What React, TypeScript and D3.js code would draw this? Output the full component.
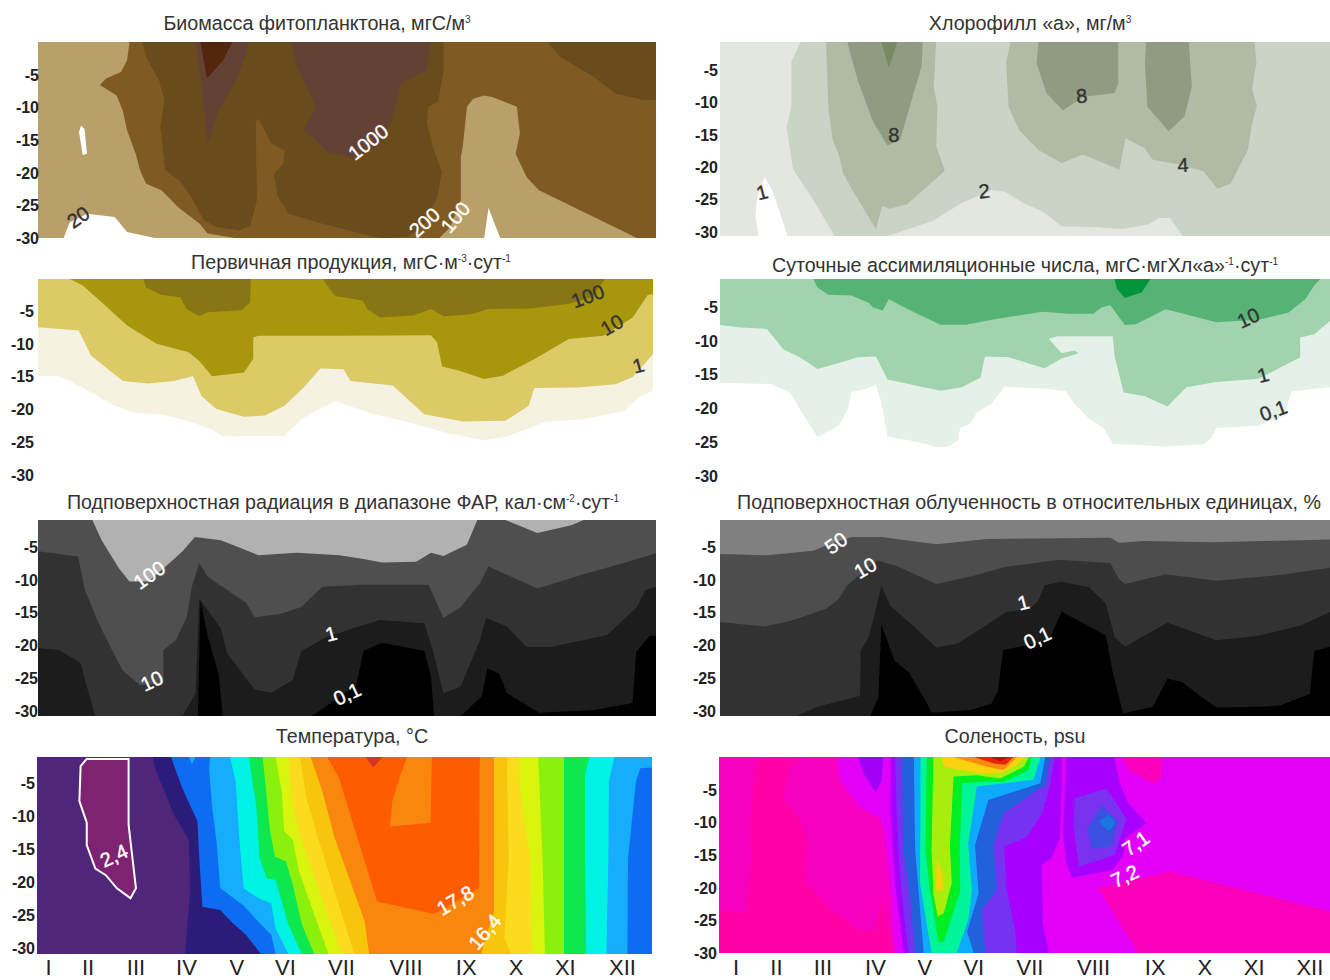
import React from "react";
import * as d3 from "d3";

type Pt = [number, number];
// x = position along the year axis (% of axis length), y = depth (m)
const depthTicks = [-5, -10, -15, -20, -25, -30];
const monthNames = ["I","II","III","IV","V","VI","VII","VIII","IX","X","XI","XII"];
const monthPosT = [1.9, 8.3, 16.1, 24.3, 32.5, 40.4, 49.5, 60, 69.8, 77.9, 85.9, 95.2];
const monthPosS = [2.8, 9.4, 17, 25.6, 33.7, 41.7, 50.9, 61.3, 71.4, 79.5, 87.6, 96.7];
const whole: Pt[] = [[0,0],[100,0],[100,30],[0,30]];

// Biomass
const bioHoleA: Pt[] = [[3.8,30],[4.8,27.6],[7.6,26.3],[12.1,26.8],[14.1,29.1],[18.6,30]];
const bioHoleB: Pt[] = [[6.6,12.8],[7.2,13.3],[7.6,17.1],[6.9,17.3],[6.3,13.8]];
const bioHoleC: Pt[] = [[72.1,30],[72.8,25.4],[74.7,30]];
const bio100: Pt[] = [[14.5,0],[14.1,2.8],[13.1,4.6],[10.7,5.6],[9.7,6.6],[12.4,8.2],[13.4,10.5],[14.1,13.5],[15.5,17.1],[16.2,19.6],[17.2,21.7],[19.7,22.7],[22.4,25.3],[25.9,27.8],[27.2,29.3],[31.7,30],[64.8,30],[66.6,28.3],[68.3,24.2],[68.3,17.6],[68.6,16.1],[69.3,9.9],[70.3,8.7],[72.1,8.2],[73.4,8.4],[77.4,9.9],[77.9,14],[77.2,17.1],[79,20.7],[81,22.7],[96.9,30],[100,30],[100,0]];
const bio200: Pt[] = [[16.6,0],[17.2,2.3],[19.3,5.9],[20.2,8.9],[19.5,13],[20.3,19.6],[22.8,21.4],[24.5,23.7],[26.6,27.3],[28.6,28.3],[32.4,28.8],[34.1,28.1],[35.2,24.2],[35,12.2],[35.4,11.7],[37.6,15.6],[39.7,16.6],[39.5,18.6],[37.9,20.2],[38.6,23.7],[40.3,26.3],[45.9,27.8],[54.1,29.8],[55.9,30],[59.7,29.8],[62.4,27.8],[64.5,23.7],[65.2,19.9],[63.8,16.1],[62.8,12.5],[63,9.9],[64.6,9.2],[65.5,4.3],[65.5,0]];
const bio200b: Pt[] = [[82.4,0],[84.5,2.3],[90,5.4],[93.4,7.9],[97.6,8.8],[100,8.9],[100,0]];
const bio1000a: Pt[] = [[25.2,0],[25.9,4.3],[27.2,15.6],[29,10.5],[31.7,6.1],[33.4,2],[33.8,0]];
const bio1000b: Pt[] = [[40.7,0],[41.7,3.8],[44.8,9.9],[42.8,13.3],[46.6,16.8],[50.7,17.7],[54.8,16.1],[56.9,12.5],[58.6,6.4],[62.8,4.3],[63.4,0]];
const bioTop: Pt[] = [[26,0],[27.1,5.6],[29.7,2.8],[31.2,0]];

// Chlorophyll
const chlHole: Pt[] = [[7.1,20.9],[8.4,23],[10.9,30],[6.1,30],[5.6,26.7],[5.9,24]];
const chl2: Pt[] = [[13,0],[11.5,3.1],[11.5,10],[10.7,13.3],[11.8,19.7],[15.1,24.4],[18.6,30],[27.3,30],[34.6,27.7],[39.5,24.9],[44.4,22.9],[46.5,23.1],[49.6,24.9],[52.8,26.2],[55.9,28.5],[61.1,28.6],[66,28.9],[70.2,28.2],[71.9,27.2],[73.7,27.2],[75.8,30],[100,30],[100,0]];
const chl4a: Pt[] = [[17.2,0],[17.6,10.5],[18.3,15.1],[19.4,17.7],[20,20.3],[22.1,23.8],[25.4,28.9],[26.4,25.4],[27.7,25.8],[30.5,25.1],[32.9,23.1],[36.7,19.9],[35.3,16.1],[35.5,10],[34.9,6.9],[35.3,0]];
const chl4b: Pt[] = [[47.5,0],[46.8,3.3],[47.2,10],[48.9,13.6],[52.1,16.7],[55.9,18.7],[59.4,17.4],[65.4,19.7],[66.4,14.9],[69.5,16.4],[70.9,18.2],[75,18.9],[79.2,20],[81.5,22.7],[83.7,21.9],[86.5,16.7],[87.2,12.6],[88,9.9],[87.2,7.2],[87.9,3.3],[87.6,0]];
const chl8a: Pt[] = [[20.7,0],[22.4,5.9],[24.9,12.3],[27.3,16],[29.4,15.1],[31.1,9.5],[32.9,3.8],[33.1,0]];
const chl8b: Pt[] = [[52.1,0],[51.8,3.3],[53.4,7.9],[56.1,10.6],[59.4,8.5],[64.6,7.9],[65.2,6.4],[65.2,0]];
const chl8c: Pt[] = [[69.8,0],[69.6,3.3],[70,10],[73.5,13.8],[76.1,11.5],[77.3,6.9],[76.8,0]];
const chlTop: Pt[] = [[26.3,0],[27.5,4],[28.9,0]];

// Primary production
const pp1: Pt[] = [[0,14.8],[3.5,14.9],[7.6,16.8],[12.4,19.4],[15.9,20.5],[20,20.7],[24.2,21.7],[28.3,23],[30,24.1],[40.1,24],[42.8,21.5],[45.2,20.2],[48.3,18.7],[54.6,20.7],[60.1,21.9],[67,23.7],[72.5,24.7],[76,24.2],[82.5,21.9],[89.1,21.4],[95.3,20.2],[97.7,18.1],[100,17.1],[100,0],[0,0]];
const pp10: Pt[] = [[0,7.4],[6.6,7.9],[7.6,9.7],[8.6,11.7],[13.8,15.6],[18,16],[22.1,15.6],[25.2,14.9],[26.6,17.9],[29,19.9],[33.5,21.1],[36.9,20.9],[40.1,19.4],[43.2,16.6],[45.9,13.7],[49.7,13.8],[50.8,15.6],[57.7,16.3],[62.8,20.7],[69.1,21.8],[76,21.7],[79.8,19.4],[80.7,16.7],[87.7,16.6],[93.9,16.1],[96.7,15],[100,11.5],[100,0],[0,0]];
const pp100: Pt[] = [[5.2,0],[7.3,1],[10.4,3.6],[14.5,7.1],[19.3,9.9],[24.5,11.2],[26.2,12.5],[28.3,14.9],[33.5,14.3],[35,12.2],[35,8.9],[35.9,8.7],[49,8.7],[63.9,8.6],[64.9,9.7],[65.7,13.4],[68.4,14],[72.5,15.3],[75.6,14.8],[80.8,12.2],[86.3,9.2],[91.9,8.7],[96.7,5.9],[99.1,2.5],[100,2.3],[100,0]];
const ppTopA: Pt[] = [[17.1,0],[17.6,1.3],[20,2.4],[23.1,2.8],[24.2,4.6],[26.2,5.7],[27.6,5.1],[33.1,4.8],[34.5,3.6],[34.6,0]];
const ppTopB: Pt[] = [[46.3,0],[48.3,2.6],[52.8,3.3],[53.5,4.6],[55.6,5.9],[61.1,5.6],[63.9,4.6],[66,5.7],[70.4,5.4],[73.2,4.6],[80.1,4.5],[86.3,3.8],[90.1,2.8],[92.2,0]];

// Assimilation numbers
const an01: Pt[] = [[0,15.8],[8.2,16],[11.3,17.3],[13,20],[15.8,24.1],[19.3,22.3],[20.8,19.8],[21.4,17.2],[23.5,16.8],[25.4,16.1],[26.3,19],[27.3,24],[33.2,25],[35.3,25.6],[37.4,25.5],[38.8,24.6],[39.3,22.6],[40.9,22.1],[42,20.3],[44.4,19],[46.5,16.4],[53.4,16.7],[56.6,17.1],[58,19],[60.4,21.3],[62.9,22.8],[64.3,25.1],[73,25.5],[79.2,25.2],[80.6,24.1],[81.3,22.7],[88.3,22.3],[92.5,20.8],[93.7,17.1],[100,16.5],[100,0],[0,0]];
const an1: Pt[] = [[0,7],[3.3,7.4],[7.5,7.6],[10.2,10.7],[13,12],[15.8,13.7],[19.3,12.8],[22.4,11.9],[25.4,11.8],[27.3,15.3],[36,17],[39.5,16.5],[42.6,15],[43.3,11.8],[47.2,11.9],[50,12.7],[53.1,13.6],[55.9,12.1],[58.7,11.3],[58,10.9],[55.9,11.3],[53.8,9.1],[55.2,8.7],[64.3,8.7],[64.6,11.7],[66.1,17.3],[69.5,17.8],[73.3,19.4],[76.4,16.5],[81.3,15.7],[88.3,15.2],[95.1,11.9],[95.1,8.9],[97.4,8.4],[100,6.4],[100,0],[0,0]];
const an10: Pt[] = [[15.1,0],[15.8,1.3],[17.6,2.4],[21.4,2.5],[24.2,3.6],[24.9,4.3],[26.5,4.8],[27.5,3.1],[31.1,4.8],[36,6.95],[40.2,6.95],[45.1,6.1],[52.8,5],[56.9,5.3],[61.1,5.3],[62.5,4.3],[63.9,4],[66.3,7],[68.1,6.9],[73,4.6],[77.2,5.6],[81.3,6.6],[88.3,6.2],[93.2,5.1],[96,3],[97.4,1],[98.4,0]];
const anTop: Pt[] = [[64.6,0],[65,1.5],[66.3,2.9],[69.1,2],[70.5,0]];

// Radiation
const rad100a: Pt[] = [[8.8,0],[10.3,3.1],[13.1,7.4],[14.8,9.4],[17.9,9.4],[21.3,6.6],[23.4,4.8],[25.4,2.6],[29.6,3.1],[35.7,5.4],[41.9,5],[48.8,5.4],[52.9,6],[55.7,6.5],[61.2,6.4],[63.6,5],[65.6,5.5],[69.4,3.8],[71.1,0]];
const rad100b: Pt[] = [[75.6,0],[80.8,2],[86.3,0.8],[88.3,0]];
const rad10: Pt[] = [[0,4.8],[6.5,5.6],[7.6,10.7],[9.6,15.3],[11.7,19.4],[13.7,23],[16.5,25.3],[20.3,25],[20.3,19.9],[22.3,18.4],[24.1,14.8],[24.9,10.2],[26.1,6.6],[27.5,8.7],[33.7,12.7],[35.1,14.9],[39.2,14.4],[42.6,13.3],[46,10.2],[52.2,9.9],[63.2,9.9],[65.6,15],[68.4,13.3],[71.5,9.7],[72.9,7.1],[80.8,10.5],[88.7,8.2],[95.5,6.4],[100,5.1],[100,30],[0,30]];
const rad1a: Pt[] = [[0,19.6],[3.4,19.9],[6.9,21.9],[7.9,25.5],[9.3,30],[0,30]];
const rad1b: Pt[] = [[23.4,30],[25.5,26.5],[26.1,12],[29.6,16.6],[30.6,20.4],[35.1,26],[37.8,26.4],[41.2,24.5],[42.6,20.1],[46.7,17.9],[50.9,16.6],[55.3,15.3],[62.5,15.8],[63.9,19.9],[65.6,26.5],[68.4,25.5],[71.5,18.4],[72.5,15],[75.9,16.3],[79,19.4],[83.2,19.4],[92.1,17.6],[96.9,13.3],[98.3,10.7],[100,10.2],[100,30]];
const rad01a: Pt[] = [[25.9,30],[26.3,12.3],[27.5,17.9],[29.2,23.4],[29.9,30]];
const rad01b: Pt[] = [[44.3,30],[47.4,28],[51.5,25.3],[52.7,20],[55.7,18.8],[62.5,20],[63.6,24],[64.1,30]];
const rad01c: Pt[] = [[68.4,30],[71.8,27],[72.7,22.7],[74.6,23.5],[75.9,26.5],[81.1,29.5],[90,29.1],[96.2,28],[96.8,20.2],[99,17.7],[100,17.7],[100,30]];

// Relative irradiance
const irr50: Pt[] = [[0,5.2],[7.5,5.4],[15.1,4.7],[17.2,3.9],[21.4,2.6],[26.3,2.6],[35.3,3.7],[43.7,2.9],[63.9,2.7],[65.3,3.5],[69.5,3.2],[80.6,3.4],[100,3],[100,30],[0,30]];
const irr10: Pt[] = [[0,15.6],[7.1,16.3],[11.6,15.4],[17.2,13.6],[19.3,12.1],[20.7,10],[25.6,6.2],[28.7,7],[35.3,9.8],[41.6,8.5],[46.5,7.2],[55.5,6.1],[63.9,6.6],[65.3,9],[66.3,9.8],[73,8.3],[81.3,9.3],[91.8,8.4],[100,7.3],[100,30],[0,30]];
const irr1: Pt[] = [[12.3,30],[15.8,28.6],[22.8,26.9],[22.9,20],[24.2,17.9],[25.2,14.4],[26.3,10],[27.7,13.1],[31.2,15.9],[35.3,19.5],[38.8,18.9],[43,16.4],[46.8,14.1],[50.7,13.6],[52.1,12.3],[53.1,10],[55.9,9.4],[60.4,10.3],[63.2,12.8],[64.6,17.9],[66.3,19.4],[73.3,15.7],[81.3,18.4],[88.3,17.7],[95.3,16.1],[100,14.1],[100,30]];
const irr01: Pt[] = [[24.5,30],[25.8,27.1],[26.3,15.9],[28.4,21.5],[30.8,23.3],[33.2,27.1],[34.6,29.5],[40.9,29.1],[44.4,28.1],[45.4,26.3],[46.3,19.9],[53.8,18.5],[55.9,14],[63.2,17.7],[64.3,23.3],[66,29.6],[70.9,28.6],[73.3,24.3],[75.7,24.8],[79.2,27.3],[81.3,28.7],[88.3,28.6],[91.8,28.4],[96.7,26.6],[97.4,20],[100,19.4],[100,30]];

// Temperature
const tIndigo: Pt[] = [[18.8,0],[19.2,1.7],[20.5,4.7],[22.3,8.8],[24.7,12.6],[24.9,20.5],[24.1,30],[100,30],[100,0]];
const tBlue: Pt[] = [[21.8,0],[23.6,4.7],[26.1,9.8],[26.4,15.4],[26.9,22.8],[29.8,23.3],[31.6,25.1],[34,27.1],[36.4,30],[100,30],[100,0]];
const tNotch: Pt[] = [[24.7,0],[25.2,1.1],[25.8,0]];
const tSky: Pt[] = [[28.1,0],[28,2.1],[28.5,7.8],[29.2,12.9],[29.8,20],[33.6,22.6],[36,25.1],[38.1,27.1],[38.8,30],[96,30],[96.1,15.4],[97.4,3.7],[98.1,1.7],[100,1.6],[100,0]];
const tCyan: Pt[] = [[31.4,0],[32.3,3.7],[32.9,12.3],[33.6,20],[36,21.5],[38.1,22.3],[38.8,26.1],[40.9,30],[92.6,30],[92.9,15.4],[93,3.7],[93.9,0]];
const tGreen: Pt[] = [[34.5,0],[34.7,1.6],[35.7,7.8],[36.2,15.4],[37.4,18.5],[38.8,18.7],[40.9,25.6],[43.1,30],[89.3,30],[89.1,15.4],[89.1,2.7],[89.8,0]];
const tLime: Pt[] = [[36.7,0],[37.1,3.7],[37.9,11.3],[38.7,15.2],[40.5,15.9],[41.6,19.5],[43.1,25.6],[45.1,30],[85.7,30],[85.7,0]];
const tYgreen: Pt[] = [[38.8,0],[39.8,5.2],[40.2,11.3],[41.6,12.6],[42.6,17.4],[45.7,25.6],[47.4,30],[82.6,30],[82.2,15.4],[81.5,0]];
const tYellow: Pt[] = [[40.9,0],[41.2,5.2],[42.2,10.3],[44,15.4],[47.1,23.6],[49.5,30],[80.5,30],[80.2,15.4],[78.6,5.2],[78.4,0]];
const tGold: Pt[] = [[42.8,0],[43.8,6.2],[45.7,12.3],[49.1,22.6],[51.6,30],[77.1,30],[76,27.6],[76.7,15.4],[76.4,0]];
const tOrange: Pt[] = [[44.5,0],[46.4,5.2],[48.4,12.3],[53.3,25.1],[54,30],[72.2,30],[74.3,23.6],[74.3,0]];
const tDeep: Pt[] = [[47.2,0],[49.1,3.2],[55.3,22],[64.6,23.9],[71.9,20],[72,0]];
const tPatch: Pt[] = [[60.2,0],[59.1,2.7],[57.8,6.7],[57.4,10.6],[64,10],[64.2,0]];
const tRed: Pt[] = [[53.4,0],[54.7,1.6],[56.2,0]];
const tCold: Pt[] = [[8.1,0.3],[7.1,1.4],[6.9,6.7],[8.1,10],[8.1,13.4],[9.5,17],[11.2,18],[13,20],[15.2,21.5],[16.1,20],[14.9,10.3],[14.9,0.3]];

// Salinity
const sLight: Pt[] = [[19.3,0],[20,3.8],[23.1,7.6],[26.4,9.4],[27.2,12.2],[28,20],[28.8,30],[0,30],[0,0]];
const sHot: Pt[] = [[6.1,0],[5.1,9.9],[5.4,14.5],[4.4,23.9],[0,23.4],[0,30],[28.5,30],[26.5,21.6],[25.7,26.6],[23.1,26.6],[22.1,26],[17.9,22.9],[14.1,19.1],[14.4,12.9],[13.4,9.9],[10.6,6.5],[11.3,1.7],[14.1,0]];
const sRight: Pt[] = [[62,20.1],[73.8,17.5],[100,23.6],[100,30],[68.6,30]];
const sRightTop: Pt[] = [[66.2,0],[66.9,1.9],[71,4.1],[72.4,3.2],[72.4,0]];
const sPurpleA: Pt[] = [[28.1,0],[28.1,9.1],[28.8,19.3],[30.2,30],[54,30],[53,25.4],[52.8,16.5],[54.4,15.5],[55.8,12.4],[56.1,3.8],[56.1,0]];
const sPurpleB: Pt[] = [[56.8,0],[56.8,2.7],[56.3,11.4],[56.8,16],[57.8,18.5],[64.4,17.3],[66.2,15],[66.5,12.4],[70,10.1],[66.9,7],[65.5,3.7],[64.7,0]];
const sPurpleC: Pt[] = [[22.8,0],[23.8,2.7],[25.6,5.3],[26.6,3.8],[26.9,0]];
const sViolet: Pt[] = [[28.8,0],[29.1,9.1],[29.7,19.3],[31,30],[48.8,30],[48.5,26.5],[47.1,20.4],[46.7,13.7],[50.4,12.3],[52.9,8.6],[54.2,4.3],[55,0]];
const sBlue: Pt[] = [[29.9,0],[30.2,14.2],[31.3,21.9],[32.1,30],[43.6,30],[43,23.4],[45.5,20.4],[44.9,13.5],[46.6,8.6],[53.4,4.3],[54.2,0]];
const sSky: Pt[] = [[31.9,0],[32.1,14.2],[32.7,20.9],[33.5,30],[41.7,30],[40.6,26.7],[42.5,20.9],[41.9,13.5],[44.1,6.6],[52.6,4],[53.4,0]];
const sSpring: Pt[] = [[33,0],[32.9,19.3],[34.8,30],[38.9,30],[40.8,24.9],[41.4,20.4],[40.8,13.2],[42.2,4.5],[51.5,3.5],[52.6,0]];
const sGreen: Pt[] = [[34,0],[33.8,14.2],[34.6,20.9],[35.9,28.3],[36.8,28.3],[39.5,20.4],[39.4,14.2],[39.8,4],[43.3,3.8],[46.6,3.8],[50.7,2],[51.2,0]];
const sLime: Pt[] = [[35.1,0],[34.8,14.2],[35.1,20.9],[35.8,24.4],[36.8,23.9],[38.1,19.3],[37.8,13.7],[38.4,3],[42.2,2.8],[46,3.3],[49.9,1.5],[50.7,0]];
const sWedge: Pt[] = [[35.7,15.3],[35.5,20.4],[36.8,20.4],[36.5,17.8]];
const sYellow: Pt[] = [[36.5,0],[36.8,1.5],[42.5,2.5],[46,2.5],[48.8,1.2],[49.9,0]];
const sOrange: Pt[] = [[38.4,0],[43.8,1.5],[46.6,2],[48.8,0]];
const sRed: Pt[] = [[41.7,0],[45,1],[46.9,1.2],[48.2,0]];
const sDark: Pt[] = [[44.4,0],[46,0.7],[47.4,0]];
const sBlobA: Pt[] = [[58.2,6.3],[63.4,4.8],[66.7,9.4],[64.8,15],[58.9,16.8],[58,10.4]];
const sBlobB: Pt[] = [[60.3,10.9],[62.7,7.3],[65.3,9.9],[64.1,13.7],[61,14.1]];
const sBlobC: Pt[] = [[62.2,9.9],[63.8,8.8],[64.9,10.1],[63.8,11.4]];

type Label = { t: string; x: number; d: number; r: number; c?: string };
type Seg = [string, boolean?];
type PanelCfg = {
  title: Seg[]; tx: number; ty: number;
  x0: number; w: number; y0: number; h: number; inset?: number;
  tickEnd: number; tick5: number; tick30: number;
  layers: [Pt[], string][];
  labels: Label[]; labelColor: string;
  cold?: Pt[]; months?: number[]; monthY?: number;
};

const panels: PanelCfg[] = [
  { title: [["Биомасса фитопланктона, мгС/м"],["3",true]], tx: 317, ty: 30, x0: 38, w: 618, y0: 42, h: 196, inset: 2.3, tickEnd: 39, tick5: 75, tick30: 238,
    layers: [[whole,"#b99f69"],[bioHoleA,"#fff"],[bioHoleB,"#fff"],[bioHoleC,"#fff"],[bio100,"#7f5a20"],[bio200,"#6a4b1b"],[bio200b,"#6a4b1b"],[bio1000a,"#634334"],[bio1000b,"#634334"],[bioTop,"#51260f"]],
    labels: [{t:"20",x:6.5,d:26.8,r:-35,c:"#333"},{t:"1000",x:53.4,d:15.3,r:-38},{t:"200",x:62.5,d:27.6,r:-42},{t:"100",x:67.5,d:26.8,r:-50}], labelColor: "#fff" },
  { title: [["Хлорофилл «а», мг/м"],["3",true]], tx: 1030, ty: 30, x0: 720, w: 610, y0: 42, h: 194, inset: 1.4, tickEnd: 718, tick5: 70, tick30: 232,
    layers: [[whole,"#e3e7e0"],[chlHole,"#fff"],[chl2,"#cbd2c6"],[chl4a,"#b0baa5"],[chl4b,"#b0baa5"],[chl8a,"#909c81"],[chl8b,"#909c81"],[chl8c,"#909c81"],[chlTop,"#788a62"]],
    labels: [{t:"1",x:6.9,d:23.2,r:-15},{t:"8",x:28.5,d:14.4,r:0},{t:"8",x:59.3,d:8.3,r:-5},{t:"2",x:43.3,d:23,r:-5},{t:"4",x:75.9,d:19,r:-3}], labelColor: "#333" },
  { title: [["Первичная продукция, мгС·м"],["-3",true],["·сут"],["-1",true]], tx: 351, ty: 269, x0: 38, w: 615, y0: 279, h: 196, tickEnd: 34, tick5: 311, tick30: 475,
    layers: [[pp1,"#f5f2e2"],[pp10,"#dbca66"],[pp100,"#a8960e"],[ppTopA,"#877514"],[ppTopB,"#877514"]],
    labels: [{t:"100",x:89.4,d:2.6,r:-20},{t:"10",x:93.3,d:7,r:-30},{t:"1",x:97.6,d:13.2,r:-15}], labelColor: "#333" },
  { title: [["Суточные ассимиляционные числа, мгС·мгХл«а»"],["-1",true],["·сут"],["-1",true]], tx: 1025, ty: 272, x0: 720, w: 610, y0: 279, h: 197, inset: 1.4, tickEnd: 718, tick5: 307, tick30: 476,
    layers: [[an01,"#e5f1e8"],[an1,"#a0d3ae"],[an10,"#57b375"],[anTop,"#00953b"]],
    labels: [{t:"10",x:86.6,d:5.9,r:-25},{t:"1",x:89,d:14.6,r:-15},{t:"0,1",x:90.7,d:20,r:-20}], labelColor: "#333" },
  { title: [["Подповерхностная радиация в диапазоне ФАР, кал·см"],["-2",true],["·сут"],["-1",true]], tx: 343, ty: 509, x0: 38, w: 618, y0: 520, h: 196, tickEnd: 38, tick5: 547, tick30: 711,
    layers: [[whole,"#4f4f4f"],[rad100a,"#b1b1b1"],[rad100b,"#b1b1b1"],[rad10,"#333333"],[rad1a,"#1c1c1c"],[rad1b,"#1c1c1c"],[rad01a,"#000"],[rad01b,"#000"],[rad01c,"#000"]],
    labels: [{t:"100",x:18,d:8.4,r:-35},{t:"10",x:18.4,d:24.6,r:-25},{t:"1",x:47.4,d:17.4,r:-15},{t:"0,1",x:50,d:26.6,r:-25}], labelColor: "#fff" },
  { title: [["Подповерхностная облученность в относительных единицах, %"]], tx: 1029, ty: 509, x0: 720, w: 610, y0: 520, h: 196, inset: 1.4, tickEnd: 716, tick5: 547, tick30: 711,
    layers: [[whole,"#808080"],[irr50,"#4d4d4d"],[irr10,"#333333"],[irr1,"#1c1c1c"],[irr01,"#000"]],
    labels: [{t:"50",x:19,d:3.5,r:-35},{t:"10",x:23.8,d:7.3,r:-30},{t:"1",x:49.7,d:12.6,r:-15},{t:"0,1",x:52,d:18,r:-25}], labelColor: "#fff" },
  { title: [["Температура, °C"]], tx: 352, ty: 743, x0: 37, w: 615, y0: 757, h: 197, tickEnd: 35, tick5: 783, tick30: 948,
    layers: [[whole,"#4f2679"],[tIndigo,"#2a1f78"],[tBlue,"#0b6cf2"],[tNotch,"#12aefc"],[tSky,"#12aefc"],[tCyan,"#02f2e4"],[tGreen,"#09e84f"],[tLime,"#8cf011"],[tYgreen,"#d9f411"],[tYellow,"#fbdc1a"],[tGold,"#f8c50e"],[tOrange,"#fa870f"],[tDeep,"#fd5d05"],[tPatch,"#fa870f"],[tRed,"#d9332a"]],
    labels: [{t:"2,4",x:12.5,d:15,r:-25},{t:"17,8",x:68,d:21.8,r:-30},{t:"16,4",x:72.8,d:26.6,r:-50}], labelColor: "#fff", cold: tCold, months: monthPosT, monthY: 975 },
  { title: [["Соленость, psu"]], tx: 1015, ty: 743, x0: 719, w: 611, y0: 757, h: 196, tickEnd: 717, tick5: 790, tick30: 953,
    layers: [[whole,"#e300f9"],[sLight,"#f700c0"],[sHot,"#ff00a6"],[sRight,"#fa00bc"],[sRightTop,"#fa00bc"],[sPurpleA,"#a800ff"],[sPurpleB,"#a800ff"],[sPurpleC,"#a000f8"],[sViolet,"#7430f0"],[sBlue,"#2060dc"],[sSky,"#10aaff"],[sSpring,"#00f59a"],[sGreen,"#00ee22"],[sLime,"#a8ee10"],[sWedge,"#f5d010"],[sYellow,"#fad210"],[sOrange,"#fb8c0d"],[sRed,"#e8200f"],[sDark,"#c01010"],[sBlobA,"#7a30f0"],[sBlobB,"#3a50e0"],[sBlobC,"#1478e0"]],
    labels: [{t:"7,1",x:68.2,d:13.2,r:-35},{t:"7,2",x:66.4,d:18.2,r:-25}], labelColor: "#fff", months: monthPosS, monthY: 975 },
];

const font = "'Liberation Sans', Arial, sans-serif";
const titleSize = 19.7;

function Panel({ p, i }: { p: PanelCfg; i: number }) {
  const x = d3.scaleLinear().domain([0, 100]).range([p.x0, p.x0 + p.w]);
  // the contours start a little inside the frame; the left edge itself stays on the frame
  const xShape = d3.scaleLinear().domain([0, 0.01, 100]).range([p.x0, p.x0 + (p.inset || 0), p.x0 + p.w]);
  const y = d3.scaleLinear().domain([0, 30]).range([p.y0, p.y0 + p.h]);
  const tickY = d3.scaleLinear().domain([-5, -30]).range([p.tick5, p.tick30]);
  const line = d3.line<Pt>().x((d) => xShape(d[0])).y((d) => y(d[1])).curve(d3.curveLinearClosed);
  return (
    <g>
      <text x={p.tx} y={p.ty} textAnchor="middle" fontFamily={font} fontSize={titleSize} fill="#333">
        {p.title.map((s, k) => (
          <tspan key={k} fontSize={s[1] ? 10 : titleSize} dy={s[1] ? -7 : (k > 0 && p.title[k - 1][1] ? 7 : 0)}>{s[0]}</tspan>
        ))}
      </text>
      <clipPath id={"c" + i}><rect x={p.x0} y={p.y0} width={p.w} height={p.h} /></clipPath>
      <g clipPath={`url(#c${i})`}>
        <g filter="url(#soft)">
          {p.layers.map((l, k) => <path key={k} d={line(l[0]) || ""} fill={l[1]} />)}
          {p.cold && <path d={line(p.cold) || ""} fill="#7e2272" stroke="#fff" strokeWidth={2} />}
        </g>
      </g>
      {depthTicks.map((t) => (
        <text key={t} x={p.tickEnd} y={tickY(t)} dy="0.36em" textAnchor="end" fontFamily={font} fontWeight="bold" fontSize={16} fill="#222">{t}</text>
      ))}
      {p.labels.map((l, k) => {
        const c = l.c || p.labelColor;
        return (
          <text key={k} transform={`translate(${x(l.x)},${y(l.d)}) rotate(${l.r})`} textAnchor="middle" dy="0.36em" fontFamily={font} fontSize={20} fill={c} stroke={c} strokeWidth={0.4}>{l.t}</text>
        );
      })}
      {p.months && p.months.map((m, k) => (
        <text key={k} x={x(m)} y={p.monthY} textAnchor="middle" fontFamily={font} fontSize={22} fill="#222">{monthNames[k]}</text>
      ))}
    </g>
  );
}

export default function App() {
  return (
    <svg width={1330} height={980} style={{ position: "absolute", left: 0, top: 0, background: "#fff" }}>
      <defs>
        <filter id="soft" x="-2%" y="-2%" width="104%" height="104%"><feGaussianBlur stdDeviation="0.5" /></filter>
      </defs>
      {panels.map((p, i) => <Panel key={i} p={p} i={i} />)}
    </svg>
  );
}
